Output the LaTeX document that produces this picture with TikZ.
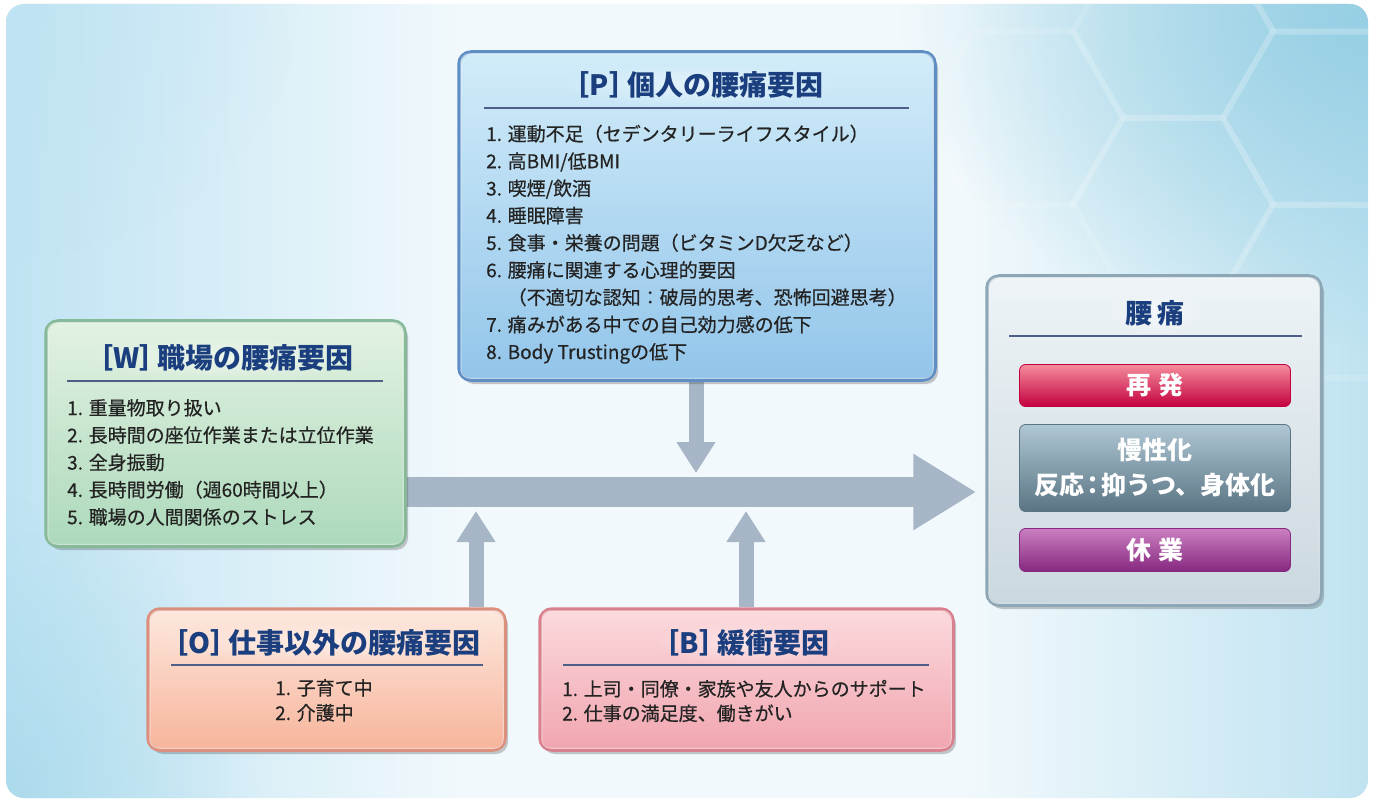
\documentclass[tikz,border=0pt]{standalone}
\usepackage{fontspec}
\setmainfont{Noto Sans CJK JP}
\newfontfamily\itemfont[FakeBold=0.5]{Noto Sans CJK JP}
\usetikzlibrary{shadows,fadings,arrows.meta,calc}
\pgfdeclarelayer{back}
\pgfdeclarelayer{arr}
\pgfsetlayers{back,arr,main}
\definecolor{bgL}{HTML}{BFE3F3}
\definecolor{bgM}{HTML}{F2F9FC}
\definecolor{bgR}{HTML}{C0E3F1}
\definecolor{bgTR}{HTML}{96CFE4}
\definecolor{bgBL}{HTML}{A3D7E9}
\definecolor{arrowc}{HTML}{A6B6C6}
\definecolor{titlec}{HTML}{1B3F7E}
\definecolor{textc}{HTML}{232323}
\definecolor{rulec}{HTML}{4E5E86}
\definecolor{Pbd}{HTML}{5F8EC4}\definecolor{Ptop}{HTML}{D2ECF9}\definecolor{Pbot}{HTML}{92C5EA}
\definecolor{Wbd}{HTML}{86B998}\definecolor{Wtop}{HTML}{E3F2E2}\definecolor{Wbot}{HTML}{ACD9BB}
\definecolor{Obd}{HTML}{DC8F7C}\definecolor{Otop}{HTML}{FDE8DE}\definecolor{Obot}{HTML}{F7B49B}
\definecolor{Bbd}{HTML}{D9808E}\definecolor{Btop}{HTML}{FBDADD}\definecolor{Bbot}{HTML}{F1A5AF}
\definecolor{Rbd}{HTML}{8EA7B6}\definecolor{Rtop}{HTML}{EEF4F7}\definecolor{Rbot}{HTML}{CBD8DF}
\definecolor{redT}{HTML}{F48C9C}\definecolor{redM}{HTML}{E8134F}\definecolor{redB}{HTML}{C4003F}
\definecolor{gryT}{HTML}{AFC7D5}\definecolor{gryM}{HTML}{7F9AAA}\definecolor{gryB}{HTML}{5A7483}
\definecolor{purT}{HTML}{CA7FC0}\definecolor{purM}{HTML}{A4439A}\definecolor{purB}{HTML}{862880}
\pgfdeclarehorizontalshading{bgshade}{100bp}{color(0bp)=(bgL); color(25bp)=(bgL); color(42bp)=(bgM); color(60bp)=(bgM); color(75bp)=(bgR); color(100bp)=(bgR)}
\tikzfading[name=radfade, inner color=transparent!0, outer color=transparent!100]
\begin{document}
\begin{tikzpicture}[x=1pt,y=-1pt,
  box/.style={rounded corners=12, line width=3.5, inner sep=0,
    drop shadow={shadow xshift=3pt, shadow yshift=-4pt, opacity=0.3, fill=black!70}},
  hl/.style={draw=white, opacity=0.55, line width=1, rounded corners=9},
  halo/.style={white, path fading=radfade, opacity=0.5},
  bar/.style={rounded corners=6, line width=0.8, inner sep=0, minimum width=271},
  title/.style={text=titlec, font=\fontsize{28}{32}\selectfont\bfseries, inner sep=0},
  item/.style={text=textc, font=\fontsize{19}{24}\selectfont\itemfont, inner sep=0, anchor=base west},
  rulel/.style={draw=rulec, line width=1.2},
  bartext/.style={text=white, font=\fontsize{25}{35}\selectfont\bfseries, inner sep=0, align=center},
  bigarrow/.style={draw=arrowc, line width=30, -{Triangle[length=63pt, width=72pt]}},
  smallarrow/.style={draw=arrowc, line width=15, -{Triangle[length=31pt, width=37pt]}}]
\useasboundingbox (0,0) rectangle (1375,799);
\begin{pgfonlayer}{back}
\fill[white] (0,0) rectangle (1375,799);
\begin{scope}
\clip[rounded corners=18] (6,4) rectangle (1368,798);
\shade[shading=bgshade] (6,4) rectangle (1368,798);
\fill[bgTR, path fading=radfade] (1370,20) ellipse (470 and 330);
\fill[bgBL, path fading=radfade, opacity=0.7] (0,798) ellipse (260 and 300);
\fill[bgL, path fading=radfade, opacity=0.6] (0,0) ellipse (300 and 260);
\foreach \cx/\cy in {1323/118, 1173/31.4, 1173/204.6, 1323/291.4, 1323/-55, 1023/118, 1473/31.4, 1473/204.6}
  \draw[white, opacity=0.13, line width=6] (\cx+100,\cy) -- (\cx+50,\cy+86.6) -- (\cx-50,\cy+86.6) -- (\cx-100,\cy) -- (\cx-50,\cy-86.6) -- (\cx+50,\cy-86.6) -- cycle;
\end{scope}
\end{pgfonlayer}

% boxes
\node[box, draw=Pbd, top color=Ptop, bottom color=Pbot, minimum width=476, minimum height=328] (P) at (697,216) {};
\node[box, draw=Wbd, top color=Wtop, bottom color=Wbot, minimum width=359, minimum height=225] (W) at (225.5,433.5) {};
\node[box, draw=Obd, top color=Otop, bottom color=Obot, minimum width=357, minimum height=141] (O) at (326.5,679.5) {};
\node[box, draw=Bbd, top color=Btop, bottom color=Bbot, minimum width=413, minimum height=141] (B) at (746.5,679.5) {};
\node[box, draw=Rbd, top color=Rtop, bottom color=Rbot, minimum width=334, minimum height=329] (R) at (1154,440.5) {};
\foreach \n in {P,W,O,B,R}
  \draw[hl] ($(\n.north west)+(3.5,3.5)$) rectangle ($(\n.south east)+(-3.5,-3.5)$);

% title halos
\fill[halo] (699,85) ellipse (140 and 22);
\fill[halo] (226,358) ellipse (145 and 22);
\fill[halo] (327,643) ellipse (170 and 22);
\fill[halo] (747,643) ellipse (95 and 22);
\fill[halo] (1155,313) ellipse (50 and 22);

% connectors
\coordinate (ay) at (0,492);
\coordinate (pend) at (696,473);
\coordinate (oend) at (476,511);
\coordinate (bend) at (746,511);
\begin{pgfonlayer}{arr}
\draw[bigarrow, shorten >=9pt] (W.east |- ay) -- (R.west |- ay);
\draw[smallarrow] (P.south -| pend) -- (pend);
\draw[smallarrow] (O.north -| oend) -- (oend);
\draw[smallarrow] (B.north -| bend) -- (bend);
\end{pgfonlayer}

% P box
\node[title] (Pt) at (699,85) {\kern-0.45em［P］\kern-0.35em個人の腰痛要因};
\draw[rulel] (484,108) -- (909,108);
\foreach \t [count=\i] in {{1. 運動不足（セデンタリーライフスタイル）},{2. 高BMI/低BMI},{3. 喫煙/飲酒},{4. 睡眠障害},{5. 食事・栄養の問題（ビタミンD欠乏など）},{6. 腰痛に関連する心理的要因},{\phantom{6. }（不適切な認知：破局的思考、恐怖回避思考）},{7. 痛みがある中での自己効力感の低下},{8. Body Trustingの低下}}
  \node[item] (P\i) at (486,{141+(\i-1)*27.25}) {\t};

% W box
\node[title] (Wt) at (226,358) {\kern-0.45em［W］\kern-0.35em職場の腰痛要因};
\draw[rulel] (67,381) -- (383,381);
\foreach \t [count=\i] in {{1. 重量物取り扱い},{2. 長時間の座位作業または立位作業},{3. 全身振動},{4. 長時間労働（週60時間以上）},{5. 職場の人間関係のストレス}}
  \node[item] (W\i) at (67,{415+(\i-1)*27.3}) {\t};

% O box
\node[title] (Ot) at (327,643) {\kern-0.45em［O］\kern-0.35em仕事以外の腰痛要因};
\draw[rulel] (171,665) -- (483,665);
\foreach \t [count=\i] in {{1. 子育て中},{2. 介護中}}
  \node[item] (O\i) at (275,{695+(\i-1)*25}) {\t};

% B box
\node[title] (Bt) at (747,643) {\kern-0.45em［B］\kern-0.35em緩衝要因};
\draw[rulel] (563,665) -- (929,665);
\foreach \t [count=\i] in {{1. 上司・同僚・家族や友人からのサポート},{2. 仕事の満足度、働きがい}}
  \node[item] (B\i) at (562,{696+(\i-1)*24.5}) {\t};

% R box
\node[title, font=\fontsize{27}{30}\selectfont\bfseries] (Rt) at (1155,313) {腰\hspace{0.2em}痛};
\draw[rulel] (1009,336) -- (1302,336);
\node[bar, draw=redB, top color=redT, middle color=redM, bottom color=redB, minimum height=42] (re) at (1155,385.5) {};
\node[bar, draw=gryB, top color=gryT, middle color=gryM, bottom color=gryB, minimum height=87] (ma) at (1155,468) {};
\node[bar, draw=purB, top color=purT, middle color=purM, bottom color=purB, minimum height=43] (ky) at (1155,550) {};
\node[bartext] (ret) at (re) {再\hspace{0.25em}発};
\node[bartext] (mat) at (ma) {慢性化\\反応\kern-0.15em：\kern-0.15em抑うつ、身体化};
\node[bartext] (kyt) at (ky) {休\hspace{0.25em}業};
\end{tikzpicture}
\end{document}
